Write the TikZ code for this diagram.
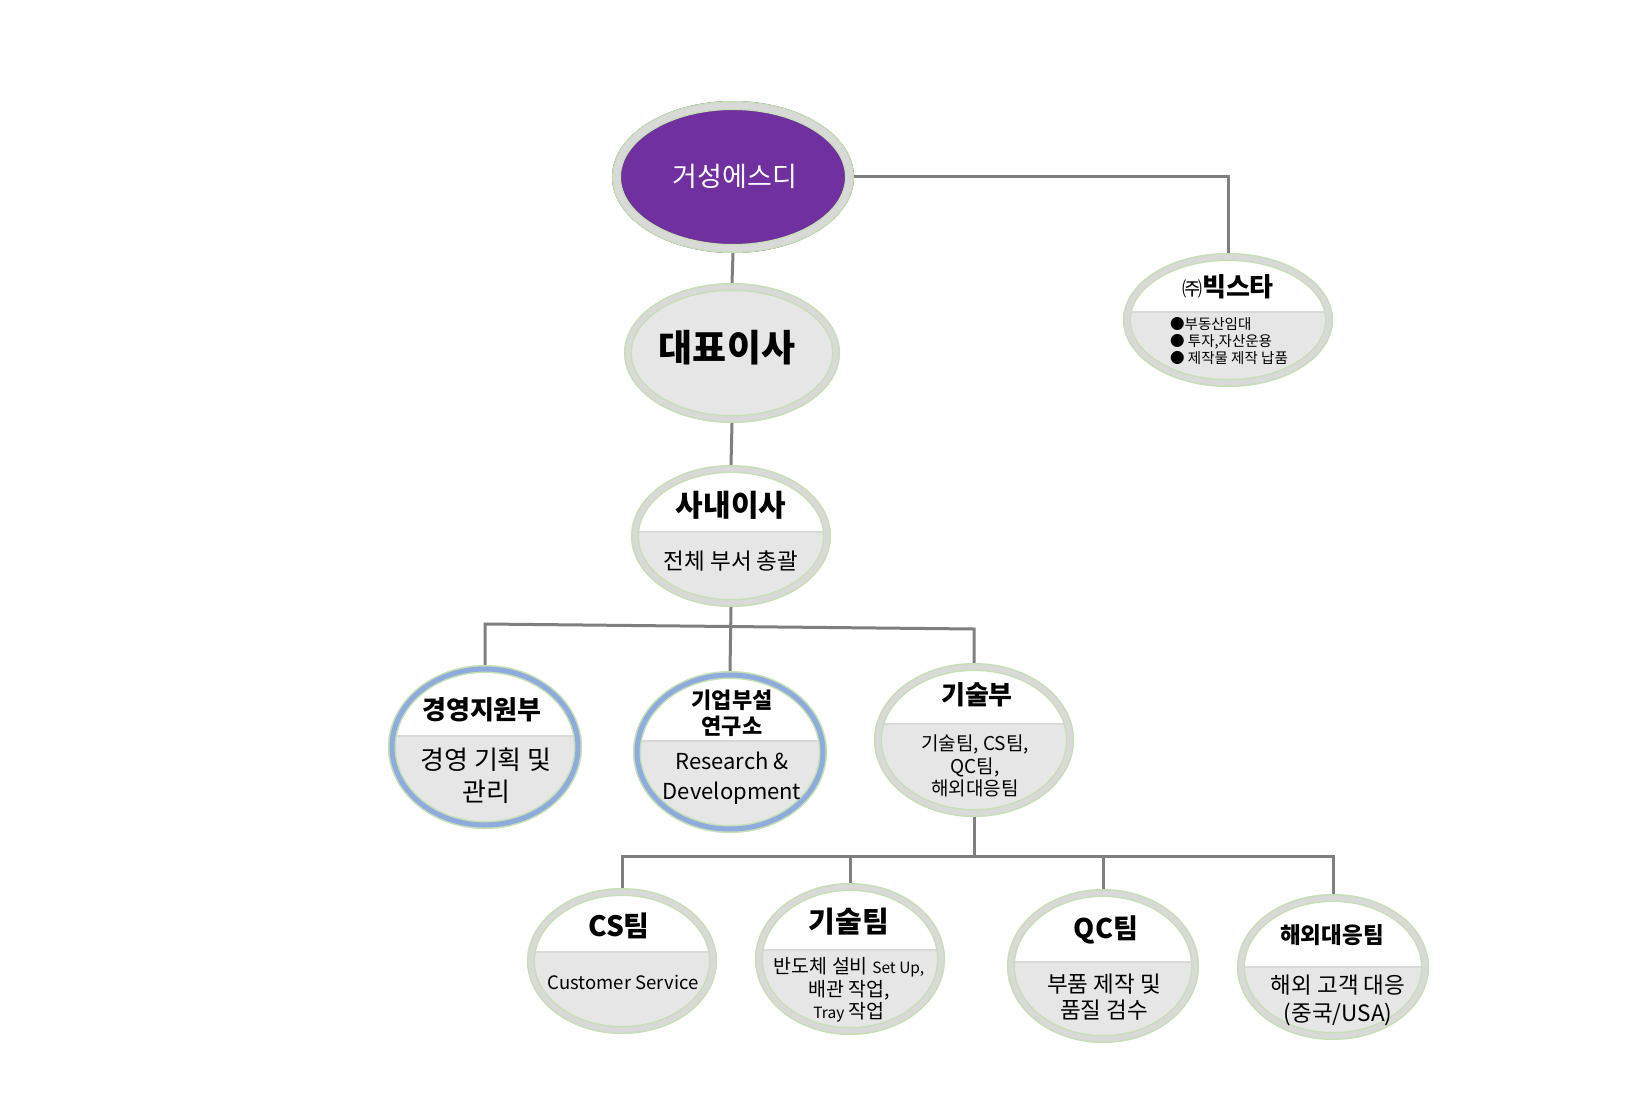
\documentclass[tikz,border=0pt]{standalone}
\usepackage{fontspec}
\setmainfont{Noto Sans CJK KR}
\usetikzlibrary{shapes.geometric,calc}
\definecolor{ringgray}{HTML}{D9D9D9}
\definecolor{ringgreenc}{HTML}{C5E0B4}
\definecolor{ringblue}{HTML}{8FAADC}
\definecolor{boxgray}{HTML}{E6E6E6}
\definecolor{orgpurple}{HTML}{7030A0}
\definecolor{connc}{HTML}{7F7F7F}
\newcommand\fsz[2]{\fontsize{#1}{#2}\selectfont}
\tikzset{
  orgshape/.style={ellipse, inner sep=0pt, draw=none, fill=boxgray},
  ringedge/.style={draw=ringgreenc, line width=8pt},
  ringband/.style={line width=5pt},
  divline/.style={draw=ringgray, line width=2pt},
  conn/.style={draw=connc, line width=3pt},
  ttl/.style={inner sep=0pt, align=center},
  txt/.style={inner sep=0pt, align=center},
}
% #1 name, #2 x, #3 y, #4 rx, #5 ry, #6 divider y (empty = none), #7 ring colour
\newcommand\orgnode[7]{%
  \node[orgshape, minimum width={2*#4*1pt}, minimum height={2*#5*1pt}] (#1) at (#2,#3) {};
  \ifx\relax#6\relax\else
  \begin{scope}
    \clip (#2,#3) ellipse [x radius={#4*1pt}, y radius={#5*1pt}];
    \fill[white] (#2-#4,#3-#5) rectangle (#2+#4,#6);
    \draw[divline] (#2-#4,#6) -- (#2+#4,#6);
  \end{scope}
  \fi
  \draw[ringedge] (#2,#3) ellipse [x radius={(#4-4)*1pt}, y radius={(#5-4)*1pt}];
  \draw[ringband, draw=#7] (#2,#3) ellipse [x radius={(#4-4)*1pt}, y radius={(#5-4)*1pt}];
}
\begin{document}
\begin{tikzpicture}[x=1pt,y=-1pt]
\fill[white] (0,0) rectangle (1635,1115);
\useasboundingbox (0,0) rectangle (1635,1115);

% top node (purple)
\node[orgshape, fill=orgpurple, minimum width=242pt, minimum height=152pt] (top) at (733,177) {};
\draw[ringgreenc, line width=9pt] (733,177) ellipse [x radius=116.5pt, y radius=71.5pt];
\draw[ringgray, line width=6pt] (733,177) ellipse [x radius=116.5pt, y radius=71.5pt];

\orgnode{bs}{1228}{320}{105}{67}{312}{ringgray}
\orgnode{ceo}{732}{353}{108}{70}{}{ringgray}
\orgnode{vp}{731}{536}{100}{71}{532}{ringgray}
\orgnode{mgmt}{485}{747}{97}{82}{736}{ringblue}
\orgnode{lab}{730}{752}{97}{81}{741}{ringblue}
\orgnode{tech}{974}{740}{100}{77}{724}{ringgray}
\orgnode{cs}{622}{961}{95}{73}{952}{ringgray}
\orgnode{tt}{850}{959}{95}{76}{950}{ringgray}
\orgnode{qc}{1103}{966}{96}{77}{962}{ringgray}
\orgnode{ovs}{1333}{967}{96}{73}{967}{ringgray}

% texts
\node[txt, text=white, font=\fsz{27}{30}] (top-t) at (735,176) {거성에스디};
\node[ttl, font=\fsz{26}{30}\bfseries] (bs-t) at (1228,287) {{\mdseries\fsz{20}{24}㈜}빅스타};
\node[txt, font=\fsz{14.5}{17}, align=left, anchor=west] (bs-d) at (1170,341) {●부동산임대\\● 투자,자산운용\\● 제작물 제작 납품};
\node[ttl, font=\fsz{37}{42}\bfseries] (ceo-t) at (727,348) {대표이사};
\node[ttl, font=\fsz{30}{34}\bfseries] (vp-t) at (731,505) {사내이사};
\node[txt, font=\fsz{22.5}{26}] (vp-d) at (731,561) {전체 부서 총괄};
\node[ttl, font=\fsz{26}{30}\bfseries] (mgmt-t) at (482,710) {경영지원부};
\node[txt, font=\fsz{26}{32}] (mgmt-d) at (486,776) {경영 기획 및\\관리};
\node[ttl, font=\fsz{22}{26}\bfseries] (lab-t) at (732,713) {기업부설\\연구소};
\node[txt, font=\fsz{22}{30}] (lab-d) at (732,778) {Research \&\\Development};
\node[ttl, font=\fsz{26}{30}\bfseries] (tech-t) at (977,695) {기술부};
\node[txt, font=\fsz{19}{22.5}] (tech-d) at (975,766) {기술팀, CS팀,\\QC팀,\\해외대응팀};
\node[ttl, font=\fsz{28}{32}\bfseries] (cs-t) at (619,926) {CS팀};
\node[txt, font=\fsz{18.5}{23}] (cs-d) at (623,982) {Customer Service};
\node[ttl, font=\fsz{29}{32}\bfseries] (tt-t) at (849,922) {기술팀};
\node[txt, font=\fsz{19.5}{22.5}] (tt-d) at (849,990) {반도체 설비 {\fsz{15.5}{22.5}Set Up,}\\배관 작업,\\{\fsz{15.5}{22.5}Tray} 작업};
\node[ttl, font=\fsz{27}{32}\bfseries] (qc-t) at (1106,930) {QC팀};
\node[txt, font=\fsz{22.5}{25.5}] (qc-d) at (1104,997) {부품 제작 및\\품질 검수};
\node[ttl, font=\fsz{22.5}{26}\bfseries] (ovs-t) at (1332,935) {해외대응팀};
\node[txt, font=\fsz{22.5}{28}] (ovs-d) at (1338,1000) {해외 고객 대응\\(중국/USA)};

% connectors
\draw[conn] (top.east) -| (bs.north);
\draw[conn] (top.south) -- (ceo.north);
\draw[conn] (ceo.south) -- (vp.north);
\coordinate (b1l) at (485,624);
\coordinate (b1r) at (976,629);
\draw[conn] (vp.south) -- (lab.north);
\draw[conn] (mgmt.north) -- (mgmt.north |- b1l) -- (tech.north |- b1r) -- (tech.north);
\coordinate (b2) at (974,856);
\draw[conn] (tech.south) -- (b2);
\draw[conn] (cs.north) -- (cs.north |- b2) -- (ovs.north |- b2) -- (ovs.north);
\draw[conn] (tt.north) -- (tt.north |- b2);
\draw[conn] (qc.north) -- (qc.north |- b2);
\end{tikzpicture}
\end{document}
